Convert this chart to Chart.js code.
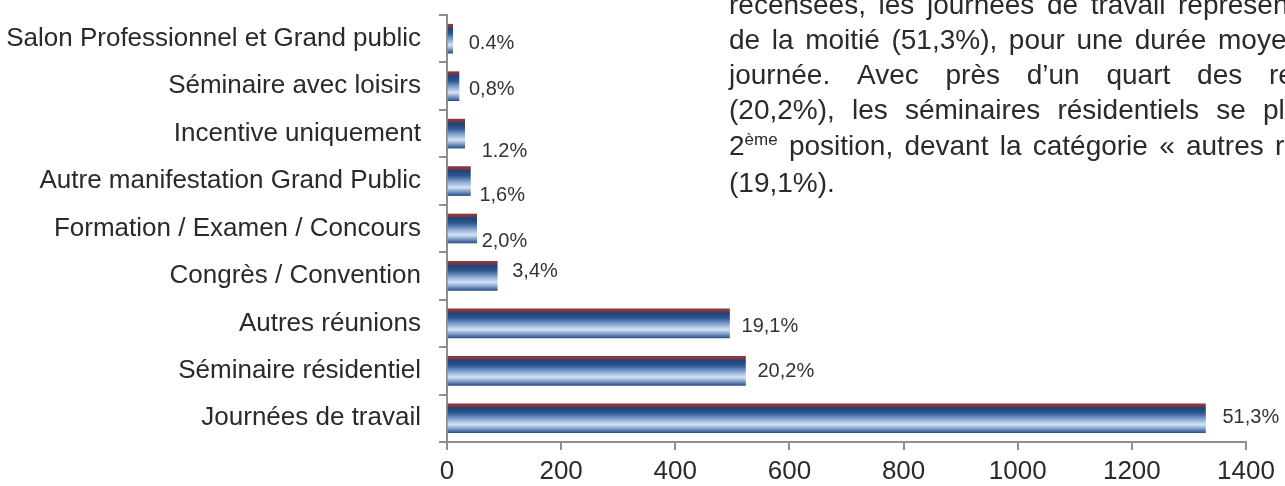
<!DOCTYPE html>
<html>
<head>
<meta charset="utf-8">
<script src="https://cdn.jsdelivr.net/npm/chart.js@4.4.0/dist/chart.umd.min.js"></script>
<style>
    html, body { margin: 0; padding: 0; background: #fff; }
    #wrap { width: 1285px; height: 486px; }
</style>
</head>
<body>
<div id="wrap"><canvas id="chart" width="1285" height="486"></canvas></div>
<script>
const categories = [
    'Salon Professionnel et Grand public',
    'Séminaire avec loisirs',
    'Incentive uniquement',
    'Autre manifestation Grand Public',
    'Formation / Examen / Concours',
    'Congrès / Convention',
    'Autres réunions',
    'Séminaire résidentiel',
    'Journées de travail'
];
const counts = [10, 21, 31, 41, 52, 88, 495, 523, 1329];
const shares = ['0.4%', '0,8%', '1.2%', '1,6%', '2,0%', '3,4%', '19,1%', '20,2%', '51,3%'];
const xMin = 0;
const xMax = 1400;
const xStep = 200;

// texte a droite (coupe par le bord de l'image)
const noteLines = [
    'recensées, les journées de travail représentent',
    'de la moitié (51,3%), pour une durée moyenne',
    'journée. Avec près d’un quart des re',
    '(20,2%), les séminaires résidentiels se placent',
    '2^ème position, devant la catégorie « autres re',
    '(19,1%).'
];

const FONT = '"Liberation Sans", Arial, sans-serif';
const AXIS_GREY = '#8e8e8e';
const TEXT = '#2a2a2a';
const BAR_H = 29;

// petits decalages des etiquettes, comme dans l'original (dx, dy en px)
const labelNudge = [[16, 5], [10, 3], [17, 18], [9, 14], [5, 13], [15, -4], [12, 3], [12, 1], [17, -1]];

function barFill(context) {
    const chart = context.chart;
    if (context.type !== 'data' || !chart.scales.y) return '#3a5f93';
    const yc = chart.scales.y.getPixelForValue(context.dataIndex);
    if (!Number.isFinite(yc)) return '#3a5f93';
    const g = chart.ctx.createLinearGradient(0, yc - BAR_H / 2, 0, yc + BAR_H / 2);
    g.addColorStop(0, '#8c3a3e');
    g.addColorStop(0.08, '#7d3843');
    g.addColorStop(0.15, '#22427a');
    g.addColorStop(0.32, '#2e5891');
    g.addColorStop(0.55, '#8eaed8');
    g.addColorStop(0.72, '#d6e2f3');
    g.addColorStop(0.86, '#7f9fcb');
    g.addColorStop(1, '#2c5288');
    return g;
}

const valueLabels = {
    id: 'valueLabels',
    afterDatasetsDraw(chart) {
        const ctx = chart.ctx;
        const meta = chart.getDatasetMeta(0);
        ctx.save();
        ctx.font = '20px ' + FONT;
        ctx.fillStyle = '#333';
        ctx.textAlign = 'left';
        ctx.textBaseline = 'middle';
        meta.data.forEach((bar, i) => {
            ctx.fillText(shares[i], bar.x + labelNudge[i][0], bar.y + labelNudge[i][1]);
        });
        ctx.restore();
    }
};

const noteText = {
    id: 'noteText',
    afterDraw(chart) {
        const ctx = chart.ctx;
        const left = 729;
        const lastWordX = [1178, 1218, 1269, 1263, 1275, null];
        const baseline = [14, 49, 84, 119, 155, 192];
        const size = 28;
        ctx.save();
        ctx.fillStyle = TEXT;
        ctx.textBaseline = 'alphabetic';
        ctx.textAlign = 'left';

        const wordWidth = w => {
            if (w.includes('^')) {
                const [a, b] = w.split('^');
                ctx.font = size + 'px ' + FONT;
                const wa = ctx.measureText(a).width;
                ctx.font = Math.round(size * 0.6) + 'px ' + FONT;
                return wa + ctx.measureText(b).width;
            }
            ctx.font = size + 'px ' + FONT;
            return ctx.measureText(w).width;
        };
        const drawWord = (w, x, y) => {
            if (w.includes('^')) {
                const [a, b] = w.split('^');
                ctx.font = size + 'px ' + FONT;
                ctx.fillText(a, x, y);
                const wa = ctx.measureText(a).width;
                ctx.font = Math.round(size * 0.6) + 'px ' + FONT;
                ctx.fillText(b, x + wa, y - 10);
                return;
            }
            ctx.font = size + 'px ' + FONT;
            ctx.fillText(w, x, y);
        };

        noteLines.forEach((line, i) => {
            const words = line.split(' ');
            const widths = words.map(wordWidth);
            let gap = wordWidth(' ');
            if (lastWordX[i] !== null && words.length > 1) {
                const used = widths.slice(0, -1).reduce((a, b) => a + b, 0);
                gap = (lastWordX[i] - left - used) / (words.length - 1);
            }
            let x = left;
            words.forEach((w, k) => {
                drawWord(w, x, baseline[i]);
                x += widths[k] + gap;
            });
        });
        ctx.restore();
    }
};

new Chart(document.getElementById('chart'), {
    type: 'bar',
    data: {
        labels: categories,
        datasets: [{
            data: counts,
            backgroundColor: barFill,
            borderWidth: 0,
            barThickness: BAR_H
        }]
    },
    options: {
        indexAxis: 'y',
        responsive: false,
        devicePixelRatio: 1,
        animation: false,
        layout: {
            padding: { top: 15, right: 39, bottom: 0, left: 0 }
        },
        plugins: {
            legend: { display: false },
            tooltip: { enabled: false }
        },
        scales: {
            x: {
                min: xMin,
                max: xMax,
                ticks: {
                    stepSize: xStep,
                    color: TEXT,
                    font: { family: FONT, size: 26 },
                    padding: 6,
                    maxRotation: 0,
                    callback: v => String(v)
                },
                grid: {
                    drawOnChartArea: false,
                    tickLength: 8,
                    color: AXIS_GREY,
                    lineWidth: 2
                },
                border: { color: AXIS_GREY, width: 2 },
                afterFit: scale => { scale.height = 44; }
            },
            y: {
                offset: true,
                ticks: {
                    color: TEXT,
                    font: { family: FONT, size: 26 },
                    padding: 18
                },
                grid: {
                    offset: true,
                    drawOnChartArea: false,
                    tickLength: 8,
                    color: AXIS_GREY,
                    lineWidth: 2
                },
                border: { color: AXIS_GREY, width: 2 },
                afterFit: scale => {
                    scale.width = 447;
                    scale.paddingTop = 0;
                    scale.paddingBottom = 0;
                }
            }
        }
    },
    plugins: [valueLabels, noteText]
});
</script>
</body>
</html>
